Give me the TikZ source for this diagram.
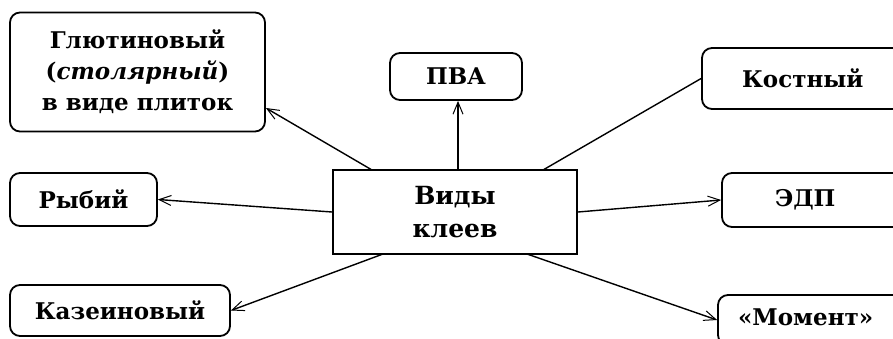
\documentclass[tikz,border=0pt]{standalone}
\usepackage{fontspec}
\setmainfont{DejaVu Serif}
\usetikzlibrary{arrows.meta}
\begin{document}
\begin{tikzpicture}[x=1pt,y=-1pt,
  kind/.style={draw, line width=1.8pt, rounded corners=10pt, inner sep=0pt, align=center, font=\bfseries\fontsize{23}{31}\selectfont},
  hub/.style={draw, line width=1.8pt, inner sep=0pt, align=center, font=\bfseries\fontsize{25}{33}\selectfont},
  link/.style={line width=1.4pt},
  arr/.style={link, -{Straight Barb[length=12pt,width=10pt,line width=1pt]}}
]
\useasboundingbox (0,0) rectangle (893,338);
\fill[white] (0,0) rectangle (893,338);
\node[hub, minimum width=244pt, minimum height=84pt] (c) at (455,212) {Виды\\клеев};
\node[kind, minimum width=255pt, minimum height=119pt] (g) at (137.5,72) {Глютиновый\\(\textit{столярный})\\в виде плиток};
\node[kind, minimum width=132pt, minimum height=47pt] (p) at (456,76.5) {ПВА};
\node[kind, minimum width=230pt, minimum height=61pt, text width=150pt, align=left] (k) at (817,78.5) {Костный};
\node[kind, minimum width=147pt, minimum height=53pt] (r) at (83.5,199.5) {Рыбий};
\node[kind, minimum width=230pt, minimum height=54pt, text width=150pt, align=left] (e) at (837,200) {\hspace*{13pt}ЭДП};
\node[kind, minimum width=220pt, minimum height=51pt] (kz) at (120,310.5) {Казеиновый};
\node[kind, minimum width=230pt, minimum height=50pt, text width=190pt, align=left] (m) at (833,320) {\raisebox{5pt}{«Момент»}};
\coordinate (cg) at (372,170);
\coordinate (ck) at (543,170);
\coordinate (cp) at (458,170);
\coordinate (ckz) at (383,254);
\coordinate (cm) at (527,254);
\coordinate (gt) at ([yshift=-36pt]g.east);
\draw[arr] (cp) -- (cp |- p.south);
\draw[arr] (cg) -- (gt);
\draw[arr] (c.west) -- (r.east);
\draw[arr] (ckz) -- (kz.east);
\draw[link] (ck) -- (k.west);
\draw[arr] (c.east) -- (e.west);
\draw[arr] (cm) -- (m.west);
\end{tikzpicture}
\end{document}
